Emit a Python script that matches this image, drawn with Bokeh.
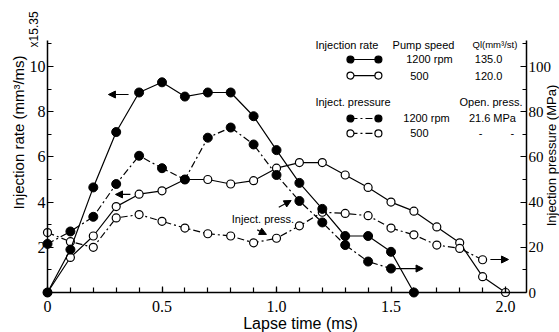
import math
from bokeh.plotting import figure
from bokeh.models import (Label, Arrow, NormalHead, LinearAxis, Range1d,
                          FixedTicker)
from bokeh.embed import file_html
from bokeh.resources import INLINE

# ---------------- data ----------------
t_rate_1200 = [0.0, 0.1, 0.2, 0.3, 0.4, 0.5, 0.6, 0.7, 0.8, 0.9, 1.0, 1.1,
               1.2, 1.3, 1.4, 1.5, 1.6]
rate_1200 = [0.0, 1.9, 4.65, 7.1, 8.85, 9.3, 8.67, 8.85, 8.85, 7.8, 6.3, 4.85,
             3.7, 2.5, 2.5, 1.8, 0.0]

t_rate_500 = [0.0, 0.1, 0.2, 0.3, 0.4, 0.5, 0.6, 0.7, 0.8, 0.9, 1.0, 1.1,
              1.2, 1.3, 1.4, 1.5, 1.6, 1.7, 1.8, 1.9, 2.0]
rate_500 = [0.0, 1.55, 2.5, 3.8, 4.35, 4.5, 5.0, 5.0, 4.8, 4.95, 5.5, 5.75,
            5.75, 5.2, 4.65, 4.0, 3.6, 2.9, 2.2, 0.7, 0.0]

t_press_1200 = [0.0, 0.1, 0.2, 0.3, 0.4, 0.5, 0.6, 0.7, 0.8, 0.9, 1.0, 1.1,
                1.2, 1.3, 1.4, 1.5]
press_1200 = [21.5, 27.0, 33.5, 48.0, 60.5, 55.0, 50.0, 68.5, 73.0, 65.5,
              52.0, 40.5, 31.0, 21.0, 13.7, 10.6]

t_press_500 = [0.0, 0.1, 0.2, 0.3, 0.4, 0.5, 0.6, 0.7, 0.8, 0.9, 1.0, 1.1,
               1.2, 1.3, 1.4, 1.5, 1.6, 1.7, 1.8, 1.9]
press_500 = [26.5, 22.5, 20.0, 33.0, 34.5, 31.5, 28.5, 26.0, 25.0, 22.0,
             24.0, 29.5, 35.5, 35.0, 34.0, 28.5, 25.5, 21.0, 19.5, 14.5]

x_ticks = [0.0, 0.5, 1.0, 1.5, 2.0]
x_tick_labels = ["0", "0.5", "1.0", "1.5", "2.0"]
x_minor = [round(0.1 * i, 1) for i in range(0, 21)]
left_ticks = [2, 4, 6, 8, 10]
left_minor = [1, 3, 5, 7, 9, 11]
right_ticks = [0, 20, 40, 60, 80, 100]
right_minor = [10, 30, 50, 70, 90, 110]

X_MAX = 2.092      # end of the time axis
Y_MAX = 11.15      # top of the injection-rate axis
P_MAX = 111.5      # top of the pressure axis

FONT = "Liberation Sans"
TICK_FONT = "Liberation Sans Narrow"
DASHDOT = "7 3 2 3"

# The frame fills the whole canvas; axes are pinned with fixed_location so that
# titles and labels outside the axes stay visible.
W, H = 559, 332
PX_X = 229.0   # pixels per ms
PX_Y = 22.6    # pixels per rate unit
LEFT_PX, BOTTOM_PX = 47.0, 40.0
x0 = -LEFT_PX / PX_X
x1 = (W - LEFT_PX) / PX_X
y0 = -BOTTOM_PX / PX_Y
y1 = (H - BOTTOM_PX) / PX_Y

p = figure(width=W, height=H, x_range=Range1d(x0, x1),
           y_range=Range1d(y0, y1), output_backend="svg",
           toolbar_location=None, min_border=0, x_axis_location=None,
           y_axis_location=None)
p.extra_y_ranges = {"press": Range1d(y0 * 10, y1 * 10)}
p.grid.visible = False
p.outline_line_color = None
p.background_fill_color = "white"
p.border_fill_color = "white"

xa = LinearAxis(fixed_location=0, bounds=(0, X_MAX))
xa.ticker = FixedTicker(ticks=x_ticks, minor_ticks=x_minor)
xa.major_label_overrides = {k: v for k, v in zip(x_ticks, x_tick_labels)}
p.add_layout(xa, "below")

ya = LinearAxis(fixed_location=0, bounds=(0, Y_MAX))
ya.ticker = FixedTicker(ticks=left_ticks, minor_ticks=left_minor)
p.add_layout(ya, "left")

ra = LinearAxis(y_range_name="press", fixed_location=X_MAX, bounds=(0, P_MAX))
ra.ticker = FixedTicker(ticks=right_ticks, minor_ticks=right_minor)
p.add_layout(ra, "right")

for ax in (xa, ya, ra):
    ax.axis_line_width = 1.5
    ax.axis_line_color = "black"
    ax.major_tick_in = 6
    ax.major_tick_out = 0
    ax.minor_tick_in = 4
    ax.minor_tick_out = 0
    ax.major_tick_line_width = 1.2
    ax.minor_tick_line_width = 1.2
    ax.major_label_text_font = TICK_FONT
    ax.major_label_text_font_size = "16px"
    ax.major_label_text_color = "black"
    ax.major_label_standoff = 2
xa.major_label_standoff = 8
xa.minor_tick_in = 5
ra.major_label_text_font_size = "15px"

# ---------------- series ----------------
LW = 1.2
p.line(t_rate_500, rate_500, line_color="black", line_width=LW)
p.scatter(t_rate_500, rate_500, size=8, fill_color="white", line_color="black",
          line_width=1.2)
p.line(t_press_500, press_500, y_range_name="press", line_color="black",
       line_width=LW, line_dash=DASHDOT)
p.scatter(t_press_500, press_500, y_range_name="press", size=8,
          fill_color="white", line_color="black", line_width=1.2)
p.line(t_rate_1200, rate_1200, line_color="black", line_width=LW)
p.scatter(t_rate_1200, rate_1200, size=9, fill_color="black",
          line_color="black")
p.line(t_press_1200, press_1200, y_range_name="press", line_color="black",
       line_width=LW, line_dash=DASHDOT)
p.scatter(t_press_1200, press_1200, y_range_name="press", size=9,
          fill_color="black", line_color="black")

# ---------------- legend ----------------
leg_x = [1.323, 1.445]
leg_rows = [10.31, 9.60, 7.70, 7.04]
leg_fill = ["black", "white", "black", "white"]
leg_dash = ["solid", "solid", DASHDOT, DASHDOT]
for yv, fc, dash in zip(leg_rows, leg_fill, leg_dash):
    p.line(leg_x, [yv, yv], line_color="black", line_width=LW, line_dash=dash)
    p.scatter(leg_x, [yv, yv], size=7, fill_color=fc, line_color="black",
              line_width=1.2)


def lab(x, y, text, size="11px", align="left", baseline="middle", angle=0.0,
        font=FONT):
    p.add_layout(Label(x=x, y=y, text=text, text_font=font,
                       text_font_size=size, text_align=align,
                       text_baseline=baseline, angle=angle,
                       text_color="black"))


lab(1.170, 10.97, "Injection rate")
lab(1.507, 10.97, "Pump speed")
lab(1.856, 10.97, "Ql(mm³/st)", size="9.5px")
lab(1.668, 10.31, "1200 rpm", align="center")
lab(1.926, 10.31, "135.0", align="center")
lab(1.624, 9.60, "500", align="center")
lab(1.926, 9.60, "120.0", align="center")
lab(1.170, 8.45, "Inject. pressure")
lab(1.799, 8.41, "Open. press.")
lab(1.655, 7.70, "1200 rpm", align="center")
lab(1.943, 7.70, "21.6 MPa", align="center")
lab(1.624, 7.04, "500", align="center")
lab(1.891, 7.04, "-", align="center")
lab(2.030, 7.04, "-", align="center")

# annotation
lab(0.941, 3.27, "Inject. press.", size="11px", align="center")

# titles
lab(-0.127, 7.08, "Injection rate (mm³/ms)", size="15px", align="center",
    baseline="middle", angle=math.pi / 2)
lab(-0.061, 11.64, "x15.35", size="12px", align="center", baseline="middle",
    angle=math.pi / 2)
lab(1.105, -1.37, "Lapse time (ms)", size="16px", align="center",
    baseline="middle")
lab(2.2009, 6.06, "Injection pressure (MPa)", size="13px", align="center",
    baseline="alphabetic", angle=math.pi / 2)

# arrows
arrows = [
    (0.354, 8.76, 0.266, 8.76),
    (0.362, 4.34, 0.297, 4.34),
    (1.52, 1.06, 1.64, 1.06),
    (1.934, 1.46, 2.013, 1.46),
    (1.010, 3.77, 1.064, 4.07),
    (0.916, 2.77, 0.956, 2.57),
]
for xs, ys, xe, ye in arrows:
    p.add_layout(Arrow(end=NormalHead(size=7, fill_color="black",
                                      line_color="black"),
                       x_start=xs, y_start=ys, x_end=xe, y_end=ye,
                       line_color="black", line_width=1.2))

open("out.html", "w").write(file_html(p, INLINE))
